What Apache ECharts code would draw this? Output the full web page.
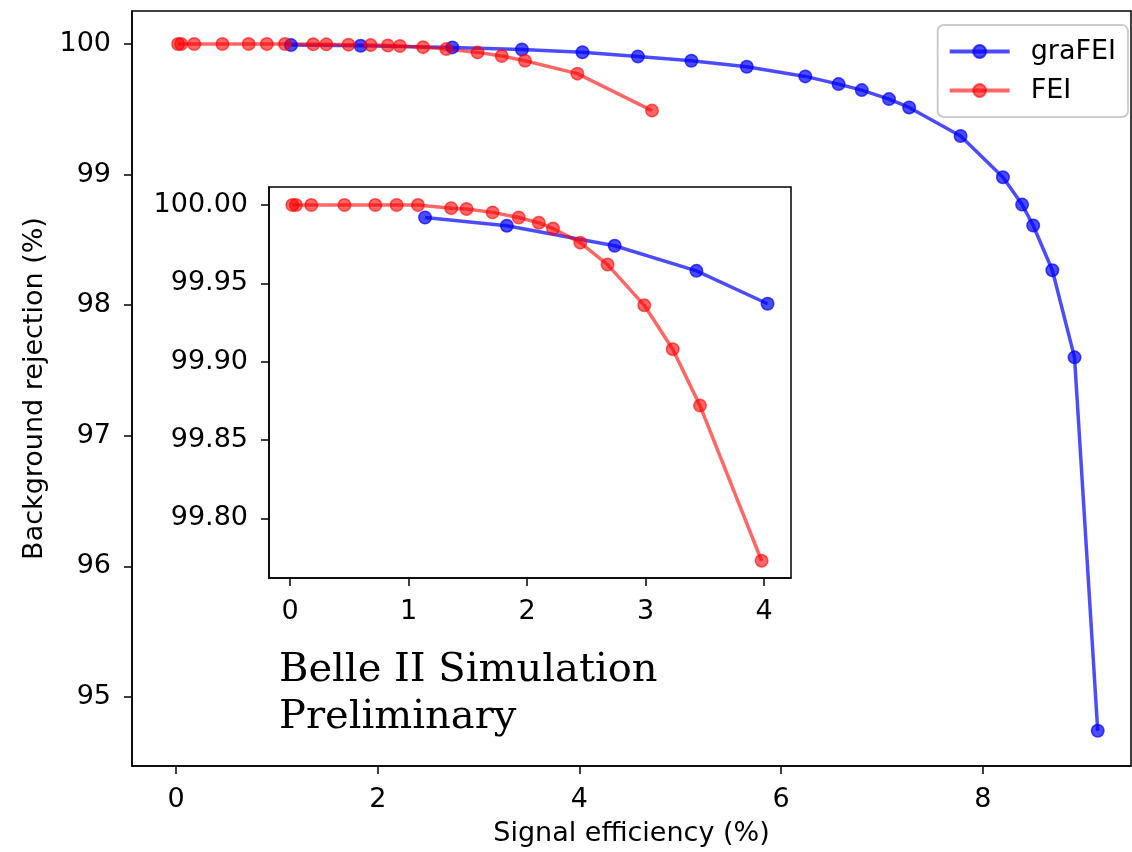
<!DOCTYPE html>
<html>
<head>
<meta charset="utf-8">
<script src="https://cdn.jsdelivr.net/npm/echarts@6/dist/echarts.min.js"></script>
<style>
  html, body { margin: 0; padding: 0; background: #fff; }
  #chart { width: 1132px; height: 852px; }
</style>
</head>
<body>
<div id="chart"></div>
<script>
// graFEI (blue) — signal efficiency (%) vs background rejection (%)
const graX = [1.14, 1.83, 2.74, 3.43, 4.03, 4.58, 5.11, 5.66, 6.24, 6.57, 6.80, 7.07, 7.27, 7.78, 8.20, 8.39, 8.50, 8.69, 8.91, 9.14];
const graY = [99.992, 99.9868, 99.974, 99.958, 99.937, 99.905, 99.872, 99.826, 99.752, 99.693, 99.647, 99.578, 99.514, 99.296, 98.98, 98.77, 98.61, 98.267, 97.60, 94.74];

// FEI (red)
const feiX = [0.02, 0.05, 0.18, 0.46, 0.72, 0.90, 1.08, 1.36, 1.49, 1.71, 1.93, 2.10, 2.22, 2.45, 2.68, 2.99, 3.23, 3.46, 3.98, 4.72];
const feiY = [100.0, 100.0, 100.0, 100.0, 100.0, 100.0, 100.0, 99.998, 99.9975, 99.9953, 99.992, 99.9887, 99.985, 99.976, 99.962, 99.936, 99.908, 99.872, 99.773, 99.49];

// tick labels
const mainXTicks = [0, 2, 4, 6, 8];
const mainYTicks = [95, 96, 97, 98, 99, 100];
const insetXTicks = [0, 1, 2, 3, 4];
const insetYTicks = [99.80, 99.85, 99.90, 99.95, 100.00];

// the inset only shows points up to here
const insetMaxX = 4.1;

const pairs = (xs, ys) => xs.map((x, i) => [x, ys[i]]);
const graData = pairs(graX, graY);
const feiData = pairs(feiX, feiY);

const FONT = 'DejaVu Sans';
const BLUE = 'rgba(0,0,255,0.7)';
const RED = 'rgba(255,0,0,0.6)';

function axisX(grid, min, max, ticks, name) {
  return {
    type: 'value', gridIndex: grid, min: min, max: max,
    name: name, nameLocation: 'middle', nameGap: 54,
    nameTextStyle: { fontFamily: FONT, fontSize: 27, color: '#000' },
    axisLine: { show: true, onZero: false, lineStyle: { color: '#000', width: 1.5 } },
    axisTick: { show: true, length: 8, customValues: ticks, lineStyle: { color: '#000', width: 1.5 } },
    axisLabel: { customValues: ticks, margin: 20, fontFamily: FONT, fontSize: 27, color: '#000' },
    splitLine: { show: false }
  };
}

function axisY(grid, min, max, ticks, name, fmt) {
  return {
    type: 'value', gridIndex: grid, min: min, max: max,
    name: name, nameLocation: 'middle', nameGap: 84, nameRotate: 90,
    nameTextStyle: { fontFamily: FONT, fontSize: 27, color: '#000' },
    axisLine: { show: true, onZero: false, lineStyle: { color: '#000', width: 1.5 } },
    axisTick: { show: true, length: 8, customValues: ticks, lineStyle: { color: '#000', width: 1.5 } },
    axisLabel: { customValues: ticks, margin: 21, fontFamily: FONT, fontSize: 27, color: '#000', formatter: fmt },
    splitLine: { show: false }
  };
}

function lineSeries(name, color, data, xi, yi) {
  return {
    name: name, type: 'line', xAxisIndex: xi, yAxisIndex: yi,
    data: data, symbol: 'circle', symbolSize: 12.5, showSymbol: true,
    lineStyle: { color: color, width: 3.5 },
    itemStyle: { color: color, borderColor: color, borderWidth: 1.5 },
    emphasis: { disabled: true }
  };
}

const chart = echarts.init(document.getElementById('chart'));
chart.setOption({
  animation: false,
  backgroundColor: '#fff',
  grid: [
    { left: 132, top: 11, right: 1, bottom: 86, show: true, borderColor: '#000', borderWidth: 1.5 },
    { left: 269, top: 187, width: 522, height: 391, show: true, backgroundColor: '#fff', borderColor: '#000', borderWidth: 1.5, z: 5 }
  ],
  xAxis: [
    axisX(0, -0.437, 9.47, mainXTicks, 'Signal efficiency (%)'),
    Object.assign(axisX(1, -0.177, 4.228, insetXTicks, ''), { z: 6 })
  ],
  yAxis: [
    axisY(0, 94.47, 100.253, mainYTicks, 'Background rejection (%)', v => String(v)),
    Object.assign(axisY(1, 99.762, 100.0115, insetYTicks, '', v => v.toFixed(2)), { z: 6 })
  ],
  legend: {
    orient: 'vertical', right: 4, top: 25,
    data: ['graFEI', 'FEI'],
    itemWidth: 60, itemHeight: 16, itemGap: 12,
    padding: [13, 12, 13, 10],
    borderColor: '#cccccc', borderWidth: 2, borderRadius: 6,
    backgroundColor: '#fff',
    lineStyle: { width: 4 },
    textStyle: { fontFamily: FONT, fontSize: 27, color: '#000', padding: [0, 0, 0, 16] }
  },
  series: [
    lineSeries('graFEI', BLUE, graData, 0, 0),
    lineSeries('FEI', RED, feiData, 0, 0),
    Object.assign(lineSeries('graFEI', BLUE, graData.filter(p => p[0] <= insetMaxX), 1, 1), { z: 7 }),
    Object.assign(lineSeries('FEI', RED, feiData.filter(p => p[0] <= insetMaxX), 1, 1), { z: 7 })
  ],
  graphic: [
    {
      type: 'text', left: 279, top: 647, z: 10,
      style: {
        text: 'Belle II Simulation\nPreliminary',
        fontFamily: 'DejaVu Serif', fontSize: 40, lineHeight: 47, fill: '#000'
      }
    }
  ]
});
</script>
</body>
</html>
